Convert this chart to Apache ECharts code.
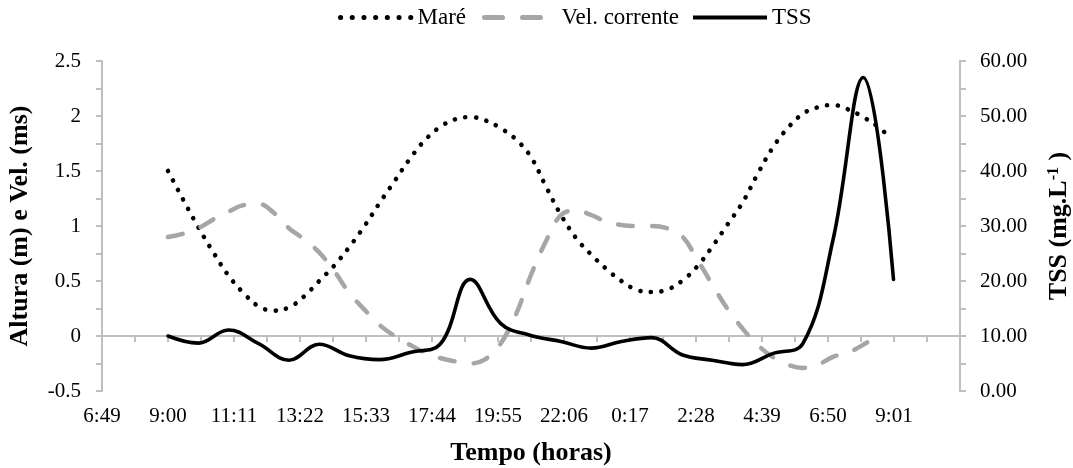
<!DOCTYPE html>
<html><head><meta charset="utf-8">
<script src="https://cdn.jsdelivr.net/npm/echarts@6/dist/echarts.min.js"></script>
<style>html,body{margin:0;padding:0;background:#fff}#c{width:1073px;height:468px}</style>
</head><body><div id="c"></div>
<script>
// ---- data ----
const axisStart = '6:49';
const xTickLabels = ['6:49','9:00','11:11','13:22','15:33','17:44','19:55','22:06','0:17','2:28','4:39','6:50','9:01'];
const leftTitle = 'Altura (m) e Vel. (ms)';
const xTitle = 'Tempo (horas)';
const seriesNames = ['Maré','Vel. corrente','TSS'];

const mareTimes = ['9:00','9:30','10:00','10:30','11:00','11:30','12:00','12:30','13:00','13:30','14:00','14:30','15:00','15:30','16:00','16:30','17:00','17:30','18:00','18:30','19:00','19:30','20:00','20:30','21:00','21:30','22:00','22:30','23:00','23:30','0:00','0:30','1:00','1:30','2:00','2:30','3:00','3:30','4:00','4:30','5:00','5:30','6:00','6:30','7:00','7:30','8:00','8:30','8:45'];
const mareValues = [1.50,1.24,0.99,0.76,0.55,0.39,0.27,0.23,0.26,0.36,0.50,0.64,0.81,1.00,1.21,1.41,1.61,1.78,1.90,1.97,1.99,1.96,1.89,1.79,1.63,1.36,1.10,0.89,0.74,0.61,0.50,0.42,0.40,0.42,0.50,0.63,0.81,1.01,1.21,1.47,1.71,1.89,2.02,2.08,2.10,2.06,1.99,1.90,1.84];

const velTimes = ['9:00','9:30','10:00','10:30','11:00','11:30','12:00','12:30','13:00','13:30','14:00','14:30','15:00','15:30','16:00','16:30','17:00','17:30','18:00','18:30','19:00','19:30','20:00','20:30','21:00','21:30','22:00','22:30','23:00','23:30','0:00','0:30','1:00','1:30','2:00','2:30','3:00','3:30','4:00','4:30','5:00','5:30','6:00','6:30','7:00','7:30','8:00','8:30'];
const velValues = [0.90,0.93,0.98,1.06,1.13,1.19,1.20,1.12,0.98,0.88,0.76,0.59,0.39,0.24,0.10,0.00,-0.08,-0.15,-0.20,-0.23,-0.25,-0.21,-0.07,0.19,0.55,0.86,1.10,1.14,1.10,1.04,1.01,1.00,1.00,0.98,0.91,0.70,0.47,0.25,0.07,-0.08,-0.19,-0.26,-0.29,-0.26,-0.19,-0.15,-0.08,0.01];

const tssTimes = ['9:00','10:00','11:00','12:00','13:00','14:00','15:00','16:00','17:00','18:00','19:00','20:00','21:00','22:00','23:00','0:00','1:00','2:00','3:00','4:00','5:00','6:00','7:00','8:00','9:00'];
const tssValues = [10.0,8.7,11.1,8.6,5.6,8.5,6.4,5.7,7.0,8.5,20.3,12.3,10.1,9.0,7.8,9.0,9.7,6.6,5.6,4.8,6.8,8.6,27.5,57.0,20.3];

// ---- helpers ----
function toMin(t){const p=t.split(':');return (+p[0])*60+(+p[1]);}
const startMin = toMin(axisStart);
const labelStep = 131;               // minutes between tick labels
const axisMax = labelStep * xTickLabels.length; // 13 intervals
function pairs(times, vals){
  let day = 0, prev = -1;
  return times.map((t,i)=>{
    let m = toMin(t);
    if (m < prev) day += 1440;
    prev = m;
    let off = m + day - startMin;
    if (off < 0) off += 1440;
    return [off, vals[i]];
  });
}

const FONT = 'Liberation Serif';
const AX = '#BFBFBF';
const styles = [
  {color:'#000', width:4.6, type:[0.1,10.6], cap:'round'},
  {color:'#A6A6A6', width:4.5, type:[15,19], cap:'round'},
  {color:'#000', width:3.6, type:'solid', cap:'round'}
];
const legendStyles = [
  {color:'#000', width:5, type:[0.1,11.6], cap:'round'},
  {color:'#A6A6A6', width:5, type:[18,20], cap:'round'},
  {color:'#000', width:4, type:'solid', cap:'butt'}
];
const legendPos = [{left:333, w:72},{left:477, w:72},{left:686, w:74}];
function mkLegend(i){
  return {
    left:legendPos[i].left, top:1, itemWidth:legendPos[i].w, itemHeight:14,
    itemStyle:{opacity:0},
    textStyle:{fontFamily:FONT, fontSize:23, color:'#000'},
    data:[{name:seriesNames[i], itemStyle:{opacity:0}, lineStyle:legendStyles[i]}]
  };
}

const chart = echarts.init(document.getElementById('c'), null, {renderer:'canvas'});
chart.setOption({
  animation:false,
  backgroundColor:'#fff',
  textStyle:{fontFamily:FONT},
  grid:{left:102, right:113, top:61, bottom:77, containLabel:false, outerBoundsMode:'none'},
  legend:[mkLegend(0), mkLegend(1), mkLegend(2)],
  xAxis:[
    {type:'value', min:0, max:axisMax, interval:labelStep/2,
     axisLine:{show:true, onZero:true, onZeroAxisIndex:0, lineStyle:{color:AX, width:2}},
     axisTick:{show:true, inside:false, length:6, lineStyle:{color:AX, width:2}},
     axisLabel:{show:false}, splitLine:{show:false}},
    {type:'value', min:0, max:axisMax, interval:labelStep, position:'bottom',
     axisLine:{show:false, onZero:false}, axisTick:{show:false}, splitLine:{show:false},
     axisLabel:{show:true, margin:15, color:'#000', fontFamily:FONT, fontSize:21,
       formatter:function(v){const i=Math.round(v/labelStep);return i<xTickLabels.length?xTickLabels[i]:'';}},
     name:xTitle, nameLocation:'middle', nameGap:49,
     nameTextStyle:{fontFamily:FONT, fontSize:26, fontWeight:'bold', color:'#000'}}
  ],
  yAxis:[
    {type:'value', min:-0.5, max:2.5, interval:0.5, position:'left',
     axisLine:{show:true, onZero:false, lineStyle:{color:AX, width:2}},
     axisTick:{show:true, length:6, lineStyle:{color:AX, width:2}},
     minorTick:{show:true, splitNumber:2, length:6, lineStyle:{color:AX, width:2}},
     splitLine:{show:false},
     axisLabel:{margin:21, color:'#000', fontFamily:FONT, fontSize:21},
     name:leftTitle, nameLocation:'middle', nameRotate:90, nameGap:69,
     nameTextStyle:{fontFamily:FONT, fontSize:26, fontWeight:'bold', color:'#000'}},
    {type:'value', min:0, max:60, interval:10, position:'right',
     axisLine:{show:true, onZero:false, lineStyle:{color:AX, width:2}},
     axisTick:{show:true, length:6, lineStyle:{color:AX, width:2}},
     minorTick:{show:true, splitNumber:2, length:6, lineStyle:{color:AX, width:2}},
     splitLine:{show:false},
     axisLabel:{margin:20, color:'#000', fontFamily:FONT, fontSize:21, formatter:v=>v.toFixed(2)},
     name:'TSS (mg.L{sup|-1} )', nameLocation:'middle', nameRotate:90, nameGap:86,
     nameTextStyle:{fontFamily:FONT, fontSize:26, fontWeight:'bold', color:'#000',
       rich:{sup:{fontFamily:FONT, fontSize:16, fontWeight:'bold', color:'#000', verticalAlign:'top'}}}}
  ],
  series:[
    {name:seriesNames[0], type:'line', xAxisIndex:0, yAxisIndex:0, data:pairs(mareTimes,mareValues),
     smooth:0.4, symbol:'none', z:2, lineStyle:styles[0], itemStyle:{color:'#000'}},
    {name:seriesNames[1], type:'line', xAxisIndex:0, yAxisIndex:0, data:pairs(velTimes,velValues),
     smooth:0.4, symbol:'none', z:3, lineStyle:styles[1], itemStyle:{color:'#A6A6A6'}},
    {name:seriesNames[2], type:'line', xAxisIndex:0, yAxisIndex:1, data:pairs(tssTimes,tssValues),
     smooth:0.4, symbol:'none', z:4, lineStyle:styles[2], itemStyle:{color:'#000'}}
  ]
});
</script></body></html>
